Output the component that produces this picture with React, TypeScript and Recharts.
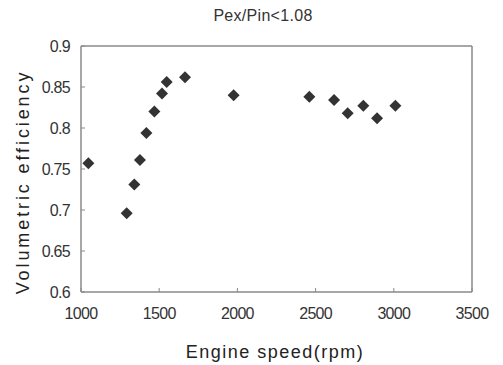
import { ScatterChart, Scatter, XAxis, YAxis, ReferenceLine } from 'recharts';

const speeds = [1047, 1292, 1341, 1377, 1418, 1469, 1518, 1548, 1665, 1976, 2460, 2618, 2705, 2805, 2893, 3010];
const efficiency = [0.757, 0.696, 0.731, 0.761, 0.794, 0.82, 0.842, 0.856, 0.862, 0.84, 0.838, 0.834, 0.818, 0.827, 0.812, 0.827];
const xTicks = [1000, 1500, 2000, 2500, 3000, 3500];
const yTicks = [0.6, 0.65, 0.7, 0.75, 0.8, 0.85, 0.9];

const data = speeds.map((s, i) => ({ speed: s, eff: efficiency[i] }));

const AXIS = '#8a8a8a';
const FONT = '"Liberation Sans", Arial, sans-serif';

const Diamond = (props: any) => {
  const { cx, cy } = props;
  const r = 6;
  return (
    <polygon
      points={`${cx},${cy - r} ${cx + r},${cy} ${cx},${cy + r} ${cx - r},${cy}`}
      fill="#333333"
    />
  );
};

const XTick = (props: any) => {
  const { x, y, payload } = props;
  // y here is axis line + tickMargin (tickSize is 0)
  const axisY = y - 14;
  return (
    <g>
      <line x1={x} x2={x} y1={axisY} y2={axisY - 4} stroke={AXIS} />
      <text x={x} y={y + 13} textAnchor="middle" fontSize={16} fill="#333" fontFamily={FONT} letterSpacing={-0.7}>
        {payload.value}
      </text>
    </g>
  );
};

const YTick = (props: any) => {
  const { x, y, payload } = props;
  const axisX = x + 11;
  return (
    <g>
      <line x1={axisX} x2={axisX + 4} y1={y} y2={y} stroke={AXIS} />
      <text x={x} y={y + 6} textAnchor="end" fontSize={16} fill="#333" fontFamily={FONT} letterSpacing={-0.7}>
        {payload.value}
      </text>
    </g>
  );
};

export default function App() {
  return (
    <div style={{ position: 'absolute', left: 0, top: 0, background: '#fff' }}>
      <ScatterChart width={503} height={365} margin={{ top: 46, right: 31, bottom: 0, left: 0 }}>
        <text x={263} y={21} textAnchor="middle" fontSize={16} fill="#333" fontFamily={FONT} letterSpacing={0.3}>
          Pex/Pin&lt;1.08
        </text>
        <text x={275} y={358} textAnchor="middle" fontSize={18} fill="#222" fontFamily={FONT} letterSpacing={1.5}>
          Engine speed(rpm)
        </text>
        <text
          x={0}
          y={0}
          transform="translate(29,182) rotate(-90)"
          textAnchor="middle"
          fontSize={18}
          fill="#222"
          fontFamily={FONT}
          letterSpacing={2.9}
        >
          Volumetric efficiency
        </text>
        <XAxis
          type="number"
          dataKey="speed"
          domain={[1000, 3500]}
          ticks={xTicks}
          height={73}
          stroke={AXIS}
          strokeWidth={1.5}
          tickSize={0}
          tickMargin={14}
          tick={<XTick />}
        />
        <YAxis
          type="number"
          dataKey="eff"
          domain={[0.6, 0.9]}
          ticks={yTicks}
          width={81}
          stroke={AXIS}
          strokeWidth={1.5}
          tickSize={0}
          tickMargin={11}
          tick={<YTick />}
        />
        <ReferenceLine y={0.9} stroke={AXIS} strokeWidth={1.5} />
        <ReferenceLine x={3500} stroke={AXIS} strokeWidth={1.5} />
        <Scatter data={data} shape={<Diamond />} isAnimationActive={false} />
      </ScatterChart>
    </div>
  );
}
